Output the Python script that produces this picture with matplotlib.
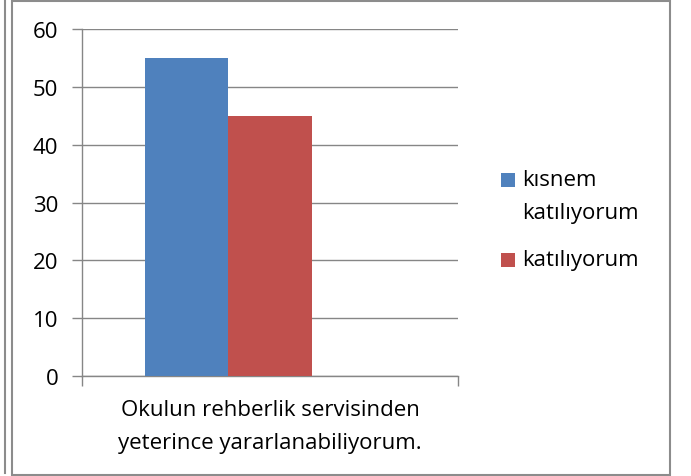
import matplotlib.pyplot as plt
from matplotlib.patches import Rectangle

categories = ["Okulun rehberlik servisinden\nyeterince yararlanabiliyorum."]
series_names = ["kısnem\nkatılıyorum", "katılıyorum"]
series_values = [[55], [45]]
series_colors = ["#4F81BD", "#C0504D"]
y_ticks = [0, 10, 20, 30, 40, 50, 60]

plt.rcParams["font.family"] = ["Open Sans", "DejaVu Sans"]
FS = 16

W, H = 691, 477
fig = plt.figure(figsize=(W / 100, H / 100), dpi=100)


def px(x, y):
    # pixel coords from top-left -> figure fraction
    return x / W, 1 - y / H


# chart frames
fig.add_artist(Rectangle((12 / W, 1 / H), 658 / W, 474 / H, transform=fig.transFigure,
                         fill=False, edgecolor="#8c8c8c", linewidth=1.5))
fig.add_artist(plt.Line2D([4.5 / W, 4.5 / W], [3 / H, 1], transform=fig.transFigure,
                          color="#8c8c8c", linewidth=1.5))

ax = fig.add_axes([82 / W, (H - 377) / H, (458 - 82) / W, (377 - 30) / H])

bar_w = 0.221
offsets = [-0.222, 0.0]
for vals, off, col in zip(series_values, offsets, series_colors):
    ax.bar([i + off for i in range(len(categories))], vals, width=bar_w,
           color=col, zorder=3)

ax.set_xlim(-0.5, 0.5)
ax.set_ylim(0, 60)
ax.set_yticks(y_ticks)
ax.set_yticklabels([str(t) for t in y_ticks], fontsize=FS)
ax.yaxis.grid(True, color="#868686", linewidth=1, zorder=0)
ax.tick_params(axis="y", length=7, width=1, color="#868686", pad=10)

ax.set_xticks([-0.5, 0.5])
ax.set_xticklabels(["", ""])
ax.tick_params(axis="x", length=7, width=1, color="#868686")
ax.text(0.5, -0.065, categories[0], transform=ax.transAxes, ha="center", va="top",
        fontsize=FS, linespacing=1.8)

for s in ["top", "right"]:
    ax.spines[s].set_visible(False)
for s in ["left", "bottom"]:
    ax.spines[s].set_color("#868686")
    ax.spines[s].set_linewidth(1)

# legend, Excel style: marker aligned with the first text line
leg_rows = [181, 261]
for name, col, yc in zip(series_names, series_colors, leg_rows):
    x0, y0 = px(501, yc + 7)
    fig.add_artist(Rectangle((x0, y0), 14 / W, 14 / H, transform=fig.transFigure,
                             facecolor=col, edgecolor="none"))
    tx, ty = px(522, yc - 11)
    fig.text(tx, ty, name, ha="left", va="top", fontsize=FS, linespacing=1.75)

fig.savefig("out.png", dpi=100)
